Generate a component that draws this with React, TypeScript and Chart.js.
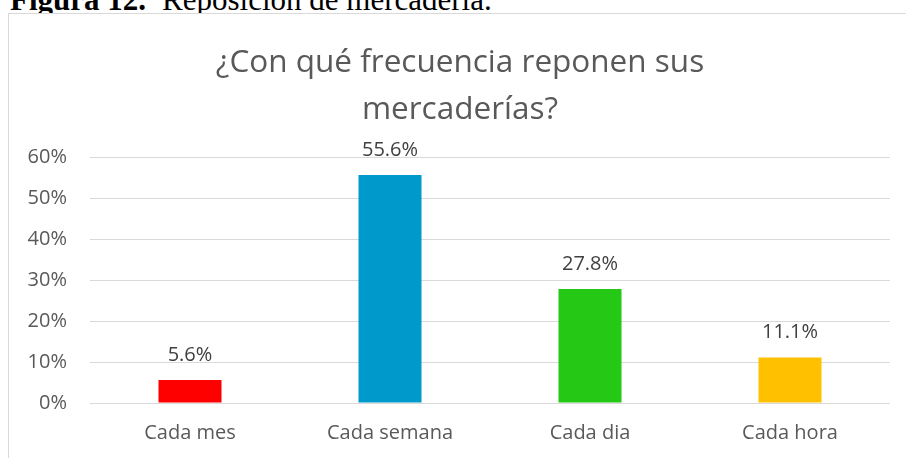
import React, { useEffect, useRef } from "react";
import { Chart, registerables } from "chart.js";

Chart.register(...registerables);

const categories = ["Cada mes", "Cada semana", "Cada dia", "Cada hora"];
const values = [5.6, 55.6, 27.8, 11.1];
const barColors = ["#FF0000", "#0099CC", "#25C815", "#FFC000"];
const yTicks = [0, 10, 20, 30, 40, 50, 60];
const titleLines = ["¿Con qué frecuencia reponen sus", "mercaderías?"];

const FONT = "'Open Sans', sans-serif";

const dataLabelPlugin = {
  id: "dataLabels",
  afterDatasetsDraw(chart: any) {
    const ctx = chart.ctx;
    const meta = chart.getDatasetMeta(0);
    ctx.save();
    ctx.font = `20px ${FONT}`;
    ctx.fillStyle = "#404040";
    ctx.textAlign = "center";
    ctx.textBaseline = "alphabetic";
    meta.data.forEach((bar: any, i: number) => {
      ctx.fillText(values[i].toFixed(1) + "%", bar.x, bar.y - 19);
    });
    ctx.restore();
  },
};

const titlePlugin = {
  id: "centeredTitle",
  afterDraw(chart: any) {
    const ctx = chart.ctx;
    ctx.save();
    ctx.font = `31.5px ${FONT}`;
    ctx.fillStyle = "#595959";
    ctx.textAlign = "center";
    ctx.textBaseline = "middle";
    const cx = 451;
    titleLines.forEach((line, i) => {
      ctx.fillText(line, cx, 49.5 + i * 46.6);
    });
    ctx.restore();
  },
};

export default function App() {
  const ref = useRef<HTMLCanvasElement>(null);
  useEffect(() => {
    if (!ref.current) return;
    const chart = new Chart(ref.current, {
      type: "bar",
      data: {
        labels: categories,
        datasets: [
          {
            data: values,
            backgroundColor: barColors,
            barPercentage: 0.315,
            categoryPercentage: 1,
          },
        ],
      },
      options: {
        animation: false,
        responsive: false,
        maintainAspectRatio: false,
        layout: { padding: { left: 0, right: 31, top: 143, bottom: 0 } },
        plugins: {
          legend: { display: false },
          tooltip: { enabled: false },
          title: { display: false },
        },
        scales: {
          x: {
            grid: { display: false, drawTicks: false },
            border: { display: false },
            ticks: { color: "#595959", font: { family: FONT, size: 20 }, padding: 18 },
            afterFit(scale: any) {
              scale.height = 71;
            },
          },
          y: {
            min: 0,
            max: 60,
            afterBuildTicks(scale: any) {
              scale.ticks = yTicks.map((v) => ({ value: v }));
            },
            grid: { color: "#D9D9D9", lineWidth: 1, drawTicks: false },
            border: { display: false },
            ticks: {
              color: "#595959",
              font: { family: FONT, size: 20 },
              padding: 23,
              callback: (v: any) => v + "%",
            },
            afterFit(scale: any) {
              scale.width = 81;
            },
          },
        },
      },
      plugins: [dataLabelPlugin, titlePlugin],
    } as any);
    return () => chart.destroy();
  }, []);

  return (
    <div style={{ position: "fixed", left: 0, top: 0, width: 906, height: 458, overflow: "hidden", background: "#fff" }}>
      <div
        style={{
          position: "absolute",
          left: 10,
          top: -16,
          fontFamily: "'Liberation Serif', serif",
          fontSize: 31,
          lineHeight: "31px",
          whiteSpace: "nowrap",
          color: "#000",
        }}
      >
        <b>Figura 12.</b>
        <span style={{ marginLeft: 16 }}>Reposición de mercadería.</span>
      </div>
      <div
        style={{
          position: "absolute",
          left: 8,
          top: 13,
          width: 912,
          height: 470,
          border: "1px solid #D9D9D9",
          background: "#fff",
        }}
      >
        <canvas ref={ref} width={912} height={460} style={{ display: "block", width: 912, height: 460 }} />
      </div>
    </div>
  );
}
